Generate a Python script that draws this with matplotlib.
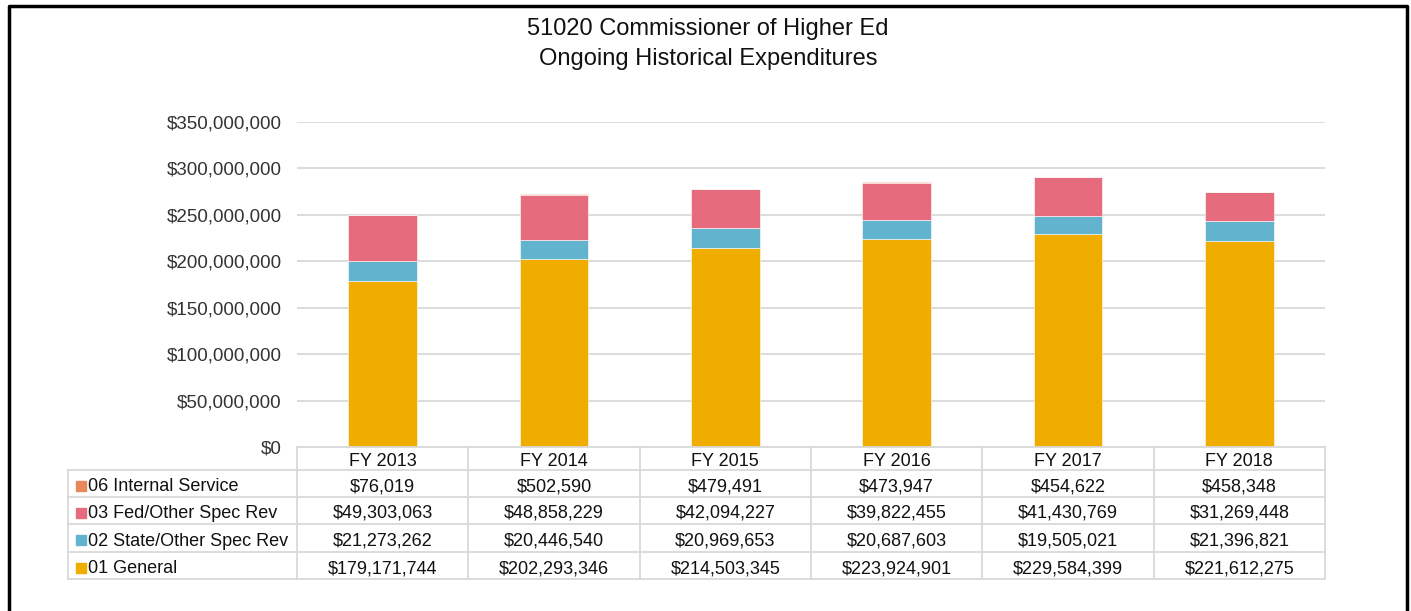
import numpy as np
import matplotlib.pyplot as plt
from matplotlib.lines import Line2D
from matplotlib.patches import Rectangle

plt.rcParams['font.family'] = ['Liberation Sans', 'DejaVu Sans']

years = ["FY 2013", "FY 2014", "FY 2015", "FY 2016", "FY 2017", "FY 2018"]
general = [179171744, 202293346, 214503345, 223924901, 229584399, 221612275]
state_other = [21273262, 20446540, 20969653, 20687603, 19505021, 21396821]
fed_other = [49303063, 48858229, 42094227, 39822455, 41430769, 31269448]
internal = [76019, 502590, 479491, 473947, 454622, 458348]

series = [("01 General", general, "#F0AD00"),
          ("02 State/Other Spec Rev", state_other, "#62B3CD"),
          ("03 Fed/Other Spec Rev", fed_other, "#E66C7D"),
          ("06 Internal Service", internal, "#E8875A")]

W, H = 1411, 611
fig = plt.figure(figsize=(W / 100, H / 100), dpi=100)


def fx(px):
    return px / W


def fy(py):
    return 1 - py / H


# plot area in pixel coords
x0, x1, ytop, ybot = 297, 1325, 122, 447
ax = fig.add_axes([fx(x0), fy(ybot), fx(x1 - x0), (ybot - ytop) / H])

x = np.arange(len(years))
bottom = np.zeros(len(years))
for name, vals, col in series:
    ax.bar(x, vals, 0.4, bottom=bottom, color=col, edgecolor="white", linewidth=0.4, zorder=3)
    bottom += np.array(vals)

ax.set_xlim(-0.5, len(years) - 0.5)
ax.set_ylim(0, 350000000)
ax.set_yticks(np.arange(0, 350000001, 50000000))
ax.yaxis.set_major_formatter(plt.FuncFormatter(lambda v, p: "${:,.0f}".format(v)))
ax.tick_params(axis="y", length=0, labelsize=13.5, colors="#333333", pad=11)
ax.set_xticks([])
ax.grid(axis="y", color="#D9D9D9", linewidth=1.3, zorder=0)
for s in ax.spines.values():
    s.set_visible(False)

# title
fig.text(fx(708), fy(29), "51020 Commissioner of Higher Ed", ha="center", va="center", fontsize=17, color="#111111")
fig.text(fx(708), fy(59), "Ongoing Historical Expenditures", ha="center", va="center", fontsize=17, color="#111111")

# data table below the plot
grid_col = "#D9D9D9"
col_w = (x1 - x0) / len(years)
row_y = [447, 470, 497, 524, 552, 579]
tab_left = 68
rows = list(reversed(series))


def hline(xa, xb, y):
    fig.add_artist(Line2D([fx(xa), fx(xb)], [fy(y), fy(y)], color=grid_col, lw=1.3))


def vline(xp, ya, yb):
    fig.add_artist(Line2D([fx(xp), fx(xp)], [fy(ya), fy(yb)], color=grid_col, lw=1.3))


hline(x0, x1, row_y[0])
for y in row_y[1:]:
    hline(tab_left, x1, y)
vline(tab_left, row_y[1], row_y[-1])
for i in range(len(years) + 1):
    vline(x0 + i * col_w, row_y[0], row_y[-1])

for i, yr in enumerate(years):
    fig.text(fx(x0 + (i + 0.5) * col_w), fy((row_y[0] + row_y[1]) / 2 + 3), yr,
             ha="center", va="center", fontsize=13, color="#111111")

for r, (name, vals, col) in enumerate(rows):
    yc = (row_y[r + 1] + row_y[r + 2]) / 2 + 3
    fig.add_artist(Rectangle((fx(76), fy(yc + 4)), fx(10), 10 / H, color=col, transform=fig.transFigure))
    fig.text(fx(88), fy(yc), name, ha="left", va="center", fontsize=13, color="#111111")
    for i, v in enumerate(vals):
        fig.text(fx(x0 + (i + 0.5) * col_w), fy(yc), "${:,.0f}".format(v),
                 ha="center", va="center", fontsize=13, color="#111111")

# outer frame
fig.add_artist(Line2D([fx(8.5), fx(8.5), fx(1407), fx(1407)], [0, fy(6), fy(6), 0], color="black", lw=2.5))

fig.savefig("out.png", dpi=100)
